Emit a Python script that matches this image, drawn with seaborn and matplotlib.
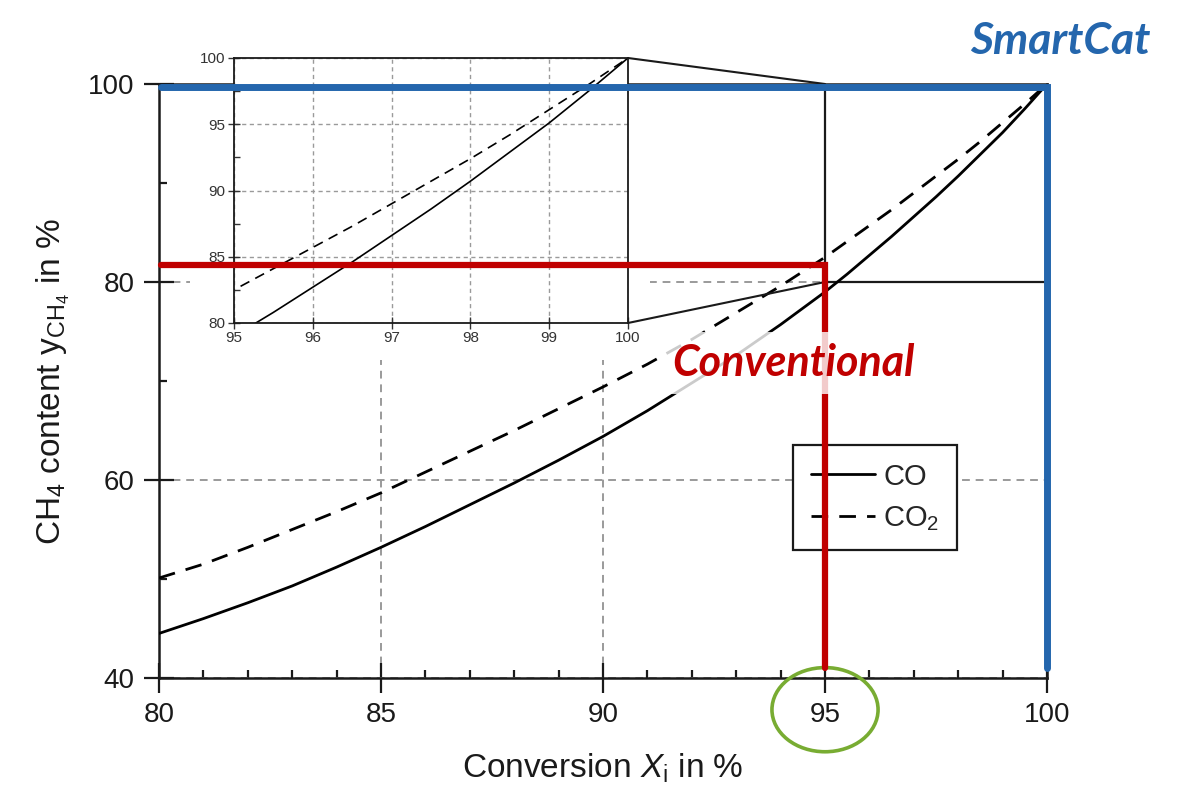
import numpy as np
import pandas as pd
import matplotlib
matplotlib.use("Agg")
import matplotlib.pyplot as plt
import seaborn as sns
from matplotlib.patches import Rectangle, Ellipse, ConnectionPatch

# Conversion X_i (%) and resulting CH4 content (%) for CO and CO2 methanation
conversion = [80, 81, 82, 83, 84, 85, 86, 87, 88, 89, 90, 91, 92, 93, 94,
              95, 95.5, 96, 96.5, 97, 97.5, 98, 98.5, 99, 99.5, 100]
ch4_co = [44.5, 46.0, 47.6, 49.3, 51.2, 53.2, 55.3, 57.5, 59.7, 62.0, 64.4,
          67.0, 69.8, 72.6, 75.7, 79.0, 80.8, 82.7, 84.6, 86.6, 88.6, 90.7,
          92.9, 95.1, 97.5, 100.0]
ch4_co2 = [50.1, 51.5, 53.2, 55.0, 56.8, 58.7, 60.8, 62.9, 65.0, 67.2, 69.4,
           71.7, 74.2, 76.9, 79.6, 82.5, 84.1, 85.7, 87.3, 89.0, 90.7, 92.4,
           94.2, 96.1, 98.0, 100.0]

main_xticks = [80, 85, 90, 95, 100]
main_yticks = [40, 60, 80, 100]
inset_xticks = [95, 96, 97, 98, 99, 100]
inset_yticks = [80, 85, 90, 95, 100]

# Operating points highlighted on top of the chart
conventional_x, conventional_y = 95, 81.7
smartcat_x, smartcat_y = 100, 99.7
marker_floor = 41

df = pd.DataFrame({
    "conversion": conversion * 2,
    "ch4": ch4_co + ch4_co2,
    "gas": ["CO"] * len(conversion) + ["CO2"] * len(conversion),
})

sns.set_style("white")
plt.rcParams["font.family"] = ["Liberation Sans", "DejaVu Sans"]
plt.rcParams["mathtext.fontset"] = "custom"
plt.rcParams["mathtext.rm"] = "Liberation Sans"
plt.rcParams["mathtext.it"] = "Liberation Sans:italic"
plt.rcParams["mathtext.default"] = "regular"

ink = "#1a1a1a"
fig = plt.figure(figsize=(11.78, 8.0), dpi=100)
ax = fig.add_axes([0.135, 0.1525, 0.7538, 0.7425])

co_df = df[df.gas == "CO"]
co2_df = df[df.gas == "CO2"]
sns.lineplot(data=co_df, x="conversion", y="ch4", ax=ax, color="black",
             lw=2.0, label="CO", zorder=3)
sns.lineplot(data=co2_df, x="conversion", y="ch4", ax=ax, color="black",
             lw=2.0, linestyle=(0, (6, 4)), label="CO$_2$", zorder=3)

ax.set_xlim(80, 100)
ax.set_ylim(40, 100)
ax.set_xticks(main_xticks)
ax.set_yticks(main_yticks)
ax.set_xticks(np.arange(80, 101, 1), minor=True)
ax.set_yticks([50, 70, 90], minor=True)
ax.tick_params(which="both", bottom=True, left=True, top=False, right=False)
ax.tick_params(which="major", direction="inout", length=21, width=1.6,
               labelsize=20, pad=7, colors=ink)
ax.tick_params(which="minor", direction="in", length=6, width=1.6,
               colors=ink)
for s in ax.spines.values():
    s.set_linewidth(1.8)
    s.set_color(ink)
ax.set_axisbelow(True)
ax.grid(True, which="major", color="#9a9a9a", linestyle=(0, (4, 3)), lw=1.4)

ax.set_xlabel(r"Conversion $\mathit{X}_{i}$ in %", fontsize=24, labelpad=17,
              color=ink)
ax.set_ylabel(r"CH$_4$ content y$_{CH_4}$ in %", fontsize=24, labelpad=12,
              color=ink)

# white area behind the inset and its tick labels
ax.add_patch(Rectangle((80.7, 72.1), 10.36, 30, facecolor="white",
                       edgecolor="none", zorder=1, clip_on=False))

# zoom window in the main axes
ax.add_patch(Rectangle((95, 80), 5, 20, fill=False, edgecolor=ink,
                       lw=1.6, zorder=2.5))

leg = ax.legend(loc="upper left", bbox_to_anchor=(0.714, 0.392), fontsize=21,
                frameon=True, fancybox=False, edgecolor=ink,
                handlelength=2.2, handletextpad=0.3, labelspacing=0.45,
                borderpad=0.6, borderaxespad=0)
leg.get_frame().set_linewidth(1.6)
leg.get_frame().set_facecolor("white")
leg.get_frame().set_alpha(1)

# inset: zoom on 95-100 % conversion
axins = fig.add_axes([0.1986, 0.59625, 0.3345, 0.33125])
axins.set_zorder(2)
sns.lineplot(data=co_df, x="conversion", y="ch4", ax=axins, color="black",
             lw=1.2, legend=False)
sns.lineplot(data=co2_df, x="conversion", y="ch4", ax=axins, color="black",
             lw=1.2, linestyle=(0, (6, 4)), legend=False)
axins.set_xlim(95, 100)
axins.set_ylim(80, 100)
axins.set_xticks(inset_xticks)
axins.set_yticks(inset_yticks)
axins.set_yticks(np.arange(82.5, 100, 5), minor=True)
axins.tick_params(which="both", bottom=True, left=True, top=False, right=False)
axins.tick_params(which="major", direction="inout", length=8, width=1.0,
                  labelsize=11, pad=2, colors="#333333")
axins.tick_params(which="minor", direction="in", length=4, width=1.0,
                  colors="#333333")
axins.set_xlabel("")
axins.set_ylabel("")
axins.set_axisbelow(True)
axins.grid(True, which="major", color="#9a9a9a", linestyle=(0, (3, 2.5)), lw=1.0)
for s in axins.spines.values():
    s.set_linewidth(1.3)
    s.set_color(ink)

for ya, yb in [(1, 100), (0, 80)]:
    con = ConnectionPatch(xyA=(1, ya), coordsA=axins.transAxes,
                          xyB=(95, yb), coordsB=ax.transData,
                          color=ink, lw=1.5, zorder=4)
    fig.add_artist(con)

# overlay for the highlighted operating points
ov = fig.add_axes(ax.get_position(), zorder=5)
ov.set_xlim(ax.get_xlim())
ov.set_ylim(ax.get_ylim())
ov.axis("off")
ov.patch.set_visible(False)

red = "#c00000"
blue = "#2466ad"
ov.plot([80.05, conventional_x, conventional_x],
        [conventional_y, conventional_y, marker_floor],
        color=red, lw=4.5, solid_joinstyle="miter", clip_on=False, zorder=2)
ov.plot([80.05, smartcat_x, smartcat_x],
        [smartcat_y, smartcat_y, marker_floor],
        color=blue, lw=5.0, solid_joinstyle="miter", clip_on=False, zorder=2)

ov.text(94.3, 71.8, "Conventional", color=red, fontsize=31,
        fontweight="bold", fontstyle="italic", family="Lato",
        ha="center", va="center", zorder=3,
        bbox=dict(facecolor="white", alpha=0.8, edgecolor="none", pad=8))
ov.text(100.3, 104.3, "SmartCat", color=blue, fontsize=32,
        fontweight="bold", fontstyle="italic", family="Lato",
        ha="center", va="center", zorder=3, clip_on=False)

ov.add_patch(Ellipse((95, 36.8), 2.39, 8.5, fill=False, edgecolor="#78ac32",
                     lw=2.6, clip_on=False))

fig.savefig("out.png", dpi=100, facecolor="white")
